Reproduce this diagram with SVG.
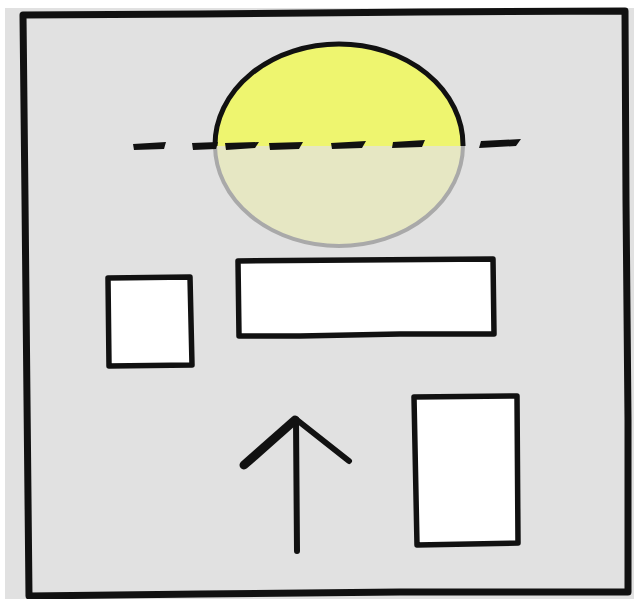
<svg xmlns="http://www.w3.org/2000/svg" width="634" height="599" viewBox="0 0 634 599">
<style>
.ink{fill:none;stroke:#111;stroke-linecap:round;stroke-linejoin:round}
.box{fill:#fff;stroke:#111;stroke-width:5.5;stroke-linejoin:round}
.dash{fill:#111}
</style>
<defs>
<clipPath id="top"><rect x="0" y="0" width="634" height="146"/></clipPath>
<clipPath id="bot"><rect x="0" y="146" width="634" height="200"/></clipPath>
</defs>
<rect x="0" y="0" width="634" height="599" fill="#fff"/>
<rect x="5" y="8" width="629" height="591" fill="#e1e1e1"/>
<g id="frame">
<path class="ink" stroke-width="7" d="M23,15 L200,14 L420,12 L625,11 L626,200 L628,420 L628,592 L400,592 L200,594 L29,596 L27,400 L25,200 Z"/>
</g>
<g id="sun">
<g clip-path="url(#bot)">
<ellipse cx="339" cy="145" rx="124" ry="101" fill="#e6e7c3" stroke="#a9a9a9" stroke-width="4"/>
</g>
<g clip-path="url(#top)">
<ellipse cx="339" cy="145" rx="124" ry="101" fill="#eef56f" stroke="#111" stroke-width="5"/>
</g>
</g>
<g id="horizon">
<path class="dash" d="M133,144 L166,142 L164,149 L134,150 Z"/>
<path class="dash" d="M192,143 L218,142 L216,149 L193,150 Z"/>
<path class="dash" d="M225,143 L259,142 L255,148 L226,150 Z"/>
<path class="dash" d="M269,143 L303,142 L299,149 L270,150 Z"/>
<path class="dash" d="M331,143 L366,141 L362,148 L332,149 Z"/>
<path class="dash" d="M393,142 L425,140 L422,147 L392,148 Z"/>
<path class="dash" d="M481,141 L521,139 L516,146 L479,148 Z"/>
</g>
<g id="small-box"><path class="box" d="M108,278 L190,277 L192,365 L109,366 Z"/></g>
<g id="wide-box"><path class="box" d="M238,261 L493,259 L494,334 L400,334 L300,336 L239,336 Z"/></g>
<g id="tall-box"><path class="box" d="M414,397 L517,396 L518,543 L417,545 Z"/></g>
<g id="arrow">
<path class="ink" stroke-width="6" d="M296,420 L297,551"/>
<path class="ink" stroke-width="9" d="M244,465 L295,420"/>
<path class="ink" stroke-width="6" d="M297,420 L349,461"/>
</g>
</svg>
